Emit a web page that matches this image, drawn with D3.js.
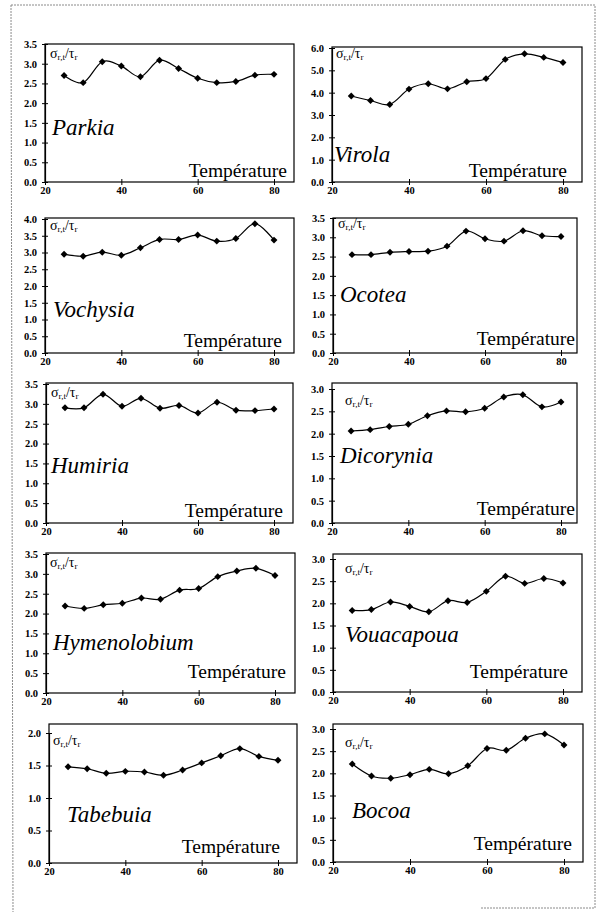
<!DOCTYPE html>
<html>
<head>
<meta charset="utf-8">
<script src="https://cdn.jsdelivr.net/npm/d3@7"></script>
<style>
  html, body { margin: 0; padding: 0; background: #fff; }
  svg { display: block; }
</style>
</head>
<body>
<svg id="chart" width="601" height="918"></svg>
<script>
// ---------- DATA ----------
const temperatures = [25, 30, 35, 40, 45, 50, 55, 60, 65, 70, 75, 80];
const xTickValues = [20, 40, 60, 80];

const species = ["Parkia", "Virola", "Vochysia", "Ocotea", "Humiria",
                 "Dicorynia", "Hymenolobium", "Vouacapoua", "Tabebuia", "Bocoa"];

const parkia       = [2.70, 2.52, 3.05, 2.94, 2.67, 3.09, 2.88, 2.63, 2.52, 2.55, 2.71, 2.73];
const virola       = [3.85, 3.65, 3.47, 4.16, 4.40, 4.17, 4.49, 4.63, 5.49, 5.74, 5.58, 5.35];
const vochysia     = [2.95, 2.89, 3.01, 2.92, 3.14, 3.39, 3.39, 3.52, 3.34, 3.42, 3.86, 3.37];
const ocotea       = [2.55, 2.55, 2.61, 2.63, 2.64, 2.77, 3.16, 2.96, 2.90, 3.17, 3.04, 3.02];
const humiria      = [2.90, 2.90, 3.24, 2.94, 3.14, 2.89, 2.96, 2.77, 3.04, 2.84, 2.83, 2.87];
const dicorynia    = [2.06, 2.09, 2.16, 2.21, 2.40, 2.51, 2.49, 2.57, 2.82, 2.87, 2.60, 2.71];
const hymenolobium = [2.19, 2.13, 2.22, 2.26, 2.39, 2.36, 2.59, 2.63, 2.93, 3.07, 3.14, 2.96];
const vouacapoua   = [1.84, 1.86, 2.03, 1.93, 1.81, 2.06, 2.02, 2.27, 2.61, 2.45, 2.56, 2.46];
const tabebuia     = [1.48, 1.45, 1.38, 1.41, 1.40, 1.35, 1.43, 1.54, 1.65, 1.76, 1.64, 1.58];
const bocoa        = [2.21, 1.94, 1.89, 1.97, 2.09, 1.99, 2.17, 2.56, 2.52, 2.79, 2.89, 2.64];

const seriesValues = [parkia, virola, vochysia, ocotea, humiria,
                      dicorynia, hymenolobium, vouacapoua, tabebuia, bocoa];
const yMaxValues  = [3.5, 6.0, 4.0, 3.5, 3.5, 3.0, 3.5, 3.0, 2.0, 3.0];
const yTickSteps  = [0.5, 1.0, 0.5, 0.5, 0.5, 0.5, 0.5, 0.5, 0.5, 0.5];
const xAxisTitle = "Température";

// ---------- LAYOUT (pixel geometry of each panel) ----------
const layout = [
  {xL: 45,  x80: 274, xR: 294, boxTop: 44,  yTop: 44,  y0: 182, nameX: 52,  nameY: 135, tempX: 287, tempY: 177, sigX: 50,  sigY: 58},
  {xL: 332, x80: 563, xR: 582, boxTop: 47,  yTop: 48,  y0: 182, nameX: 334, nameY: 162, tempX: 567, tempY: 177, sigX: 336, sigY: 58},
  {xL: 45,  x80: 274, xR: 294, boxTop: 218, yTop: 219, y0: 353, nameX: 53,  nameY: 317, tempX: 282, tempY: 347, sigX: 50,  sigY: 230},
  {xL: 333, x80: 561, xR: 577, boxTop: 218, yTop: 218, y0: 353, nameX: 340, nameY: 302, tempX: 575, tempY: 345, sigX: 338, sigY: 228},
  {xL: 46,  x80: 274, xR: 293, boxTop: 383, yTop: 384, y0: 523, nameX: 51,  nameY: 473, tempX: 283, tempY: 517, sigX: 51,  sigY: 397},
  {xL: 332, x80: 561, xR: 577, boxTop: 383, yTop: 389, y0: 523, nameX: 340, nameY: 463, tempX: 575, tempY: 515, sigX: 345, sigY: 405},
  {xL: 46,  x80: 275, xR: 295, boxTop: 553, yTop: 554, y0: 693, nameX: 53,  nameY: 650, tempX: 286, tempY: 678, sigX: 50,  sigY: 567},
  {xL: 333, x80: 563, xR: 582, boxTop: 554, yTop: 559, y0: 692, nameX: 345, nameY: 642, tempX: 568, tempY: 678, sigX: 345, sigY: 573},
  {xL: 49,  x80: 278, xR: 297, boxTop: 724, yTop: 733, y0: 863, nameX: 67,  nameY: 822, tempX: 280, tempY: 853, sigX: 53,  sigY: 745},
  {xL: 333, x80: 564, xR: 583, boxTop: 724, yTop: 729, y0: 862, nameX: 352, nameY: 818, tempX: 572, tempY: 850, sigX: 345, sigY: 747}
];

const FONT = '"Liberation Serif"';
const svg = d3.select("#chart");

// outer frame
svg.append("path")
  .attr("d", "M11,5 L595,5 L595,908 L480,908 M11,5 L13,912")
  .attr("fill", "none")
  .attr("stroke", "#8a8a8a")
  .attr("stroke-width", 1)
  .attr("stroke-dasharray", "2,1");

const diamond = d3.symbol().type(d3.symbolSquare).size(24);

species.forEach((name, i) => {
  const L = layout[i];
  const vals = seriesValues[i];
  const yMax = yMaxValues[i];
  const step = yTickSteps[i];

  const x = d3.scaleLinear().domain([20, 80]).range([L.xL, L.x80]);
  const y = d3.scaleLinear().domain([0, yMax]).range([L.y0, L.yTop]);

  const g = svg.append("g");

  g.append("rect")
    .attr("x", L.xL).attr("y", L.boxTop)
    .attr("width", L.xR - L.xL).attr("height", L.y0 - L.boxTop)
    .attr("fill", "none").attr("stroke", "#000").attr("stroke-width", 1.2);

  const yTicks = d3.range(0, yMax + step / 2, step);
  const yAxis = d3.axisLeft(y).tickValues(yTicks).tickFormat(d3.format(".1f"))
    .tickSizeInner(3).tickSizeOuter(0).tickPadding(5);
  const ya = g.append("g").attr("transform", `translate(${L.xL},0)`).call(yAxis);
  ya.select(".domain").attr("stroke", "#000").attr("stroke-width", 1.2);
  ya.selectAll(".tick line").attr("x2", -3).attr("x1", 3).attr("stroke", "#000");
  ya.selectAll(".tick text")
    .style("font-family", FONT).style("font-size", "10.5px").style("font-weight", "bold")
    .attr("fill", "#000");

  const xAxis = d3.axisBottom(x).tickValues(xTickValues).tickFormat(d3.format("d"))
    .tickSizeInner(3).tickSizeOuter(0).tickPadding(2);
  const xa = g.append("g").attr("transform", `translate(0,${L.y0})`).call(xAxis);
  xa.select(".domain").remove();
  xa.selectAll(".tick line").attr("y1", -3).attr("y2", 3).attr("stroke", "#000");
  xa.selectAll(".tick text")
    .style("font-family", FONT).style("font-size", "10.5px").style("font-weight", "bold")
    .attr("fill", "#000");

  const pts = temperatures.map((t, k) => [t, vals[k]]);
  const line = d3.line().x(d => x(d[0])).y(d => y(d[1])).curve(d3.curveCatmullRom.alpha(0));
  g.append("path").datum(pts).attr("d", line)
    .attr("fill", "none").attr("stroke", "#000").attr("stroke-width", 1.2);

  g.selectAll("path.mk").data(pts).enter().append("path")
    .attr("class", "mk")
    .attr("d", diamond)
    .attr("transform", d => `translate(${x(d[0])},${y(d[1])}) rotate(45)`)
    .attr("fill", "#000");

  g.append("text").attr("x", L.nameX).attr("y", L.nameY)
    .style("font-family", FONT).style("font-style", "italic").style("font-size", "23px")
    .attr("fill", "#000").text(name);

  g.append("text").attr("x", L.tempX).attr("y", L.tempY)
    .attr("text-anchor", "end")
    .style("font-family", FONT).style("font-size", "19.5px")
    .attr("fill", "#000").text(xAxisTitle);

  const s = g.append("text").attr("x", L.sigX).attr("y", L.sigY)
    .style("font-family", FONT).style("font-size", "14px").attr("fill", "#000");
  s.append("tspan").text("σ");
  s.append("tspan").style("font-size", "9px").attr("dy", 2).text("r,t");
  s.append("tspan").attr("dy", -2).text("/τ");
  s.append("tspan").style("font-size", "9px").attr("dy", 2).text("r");
});
</script>
</body>
</html>
